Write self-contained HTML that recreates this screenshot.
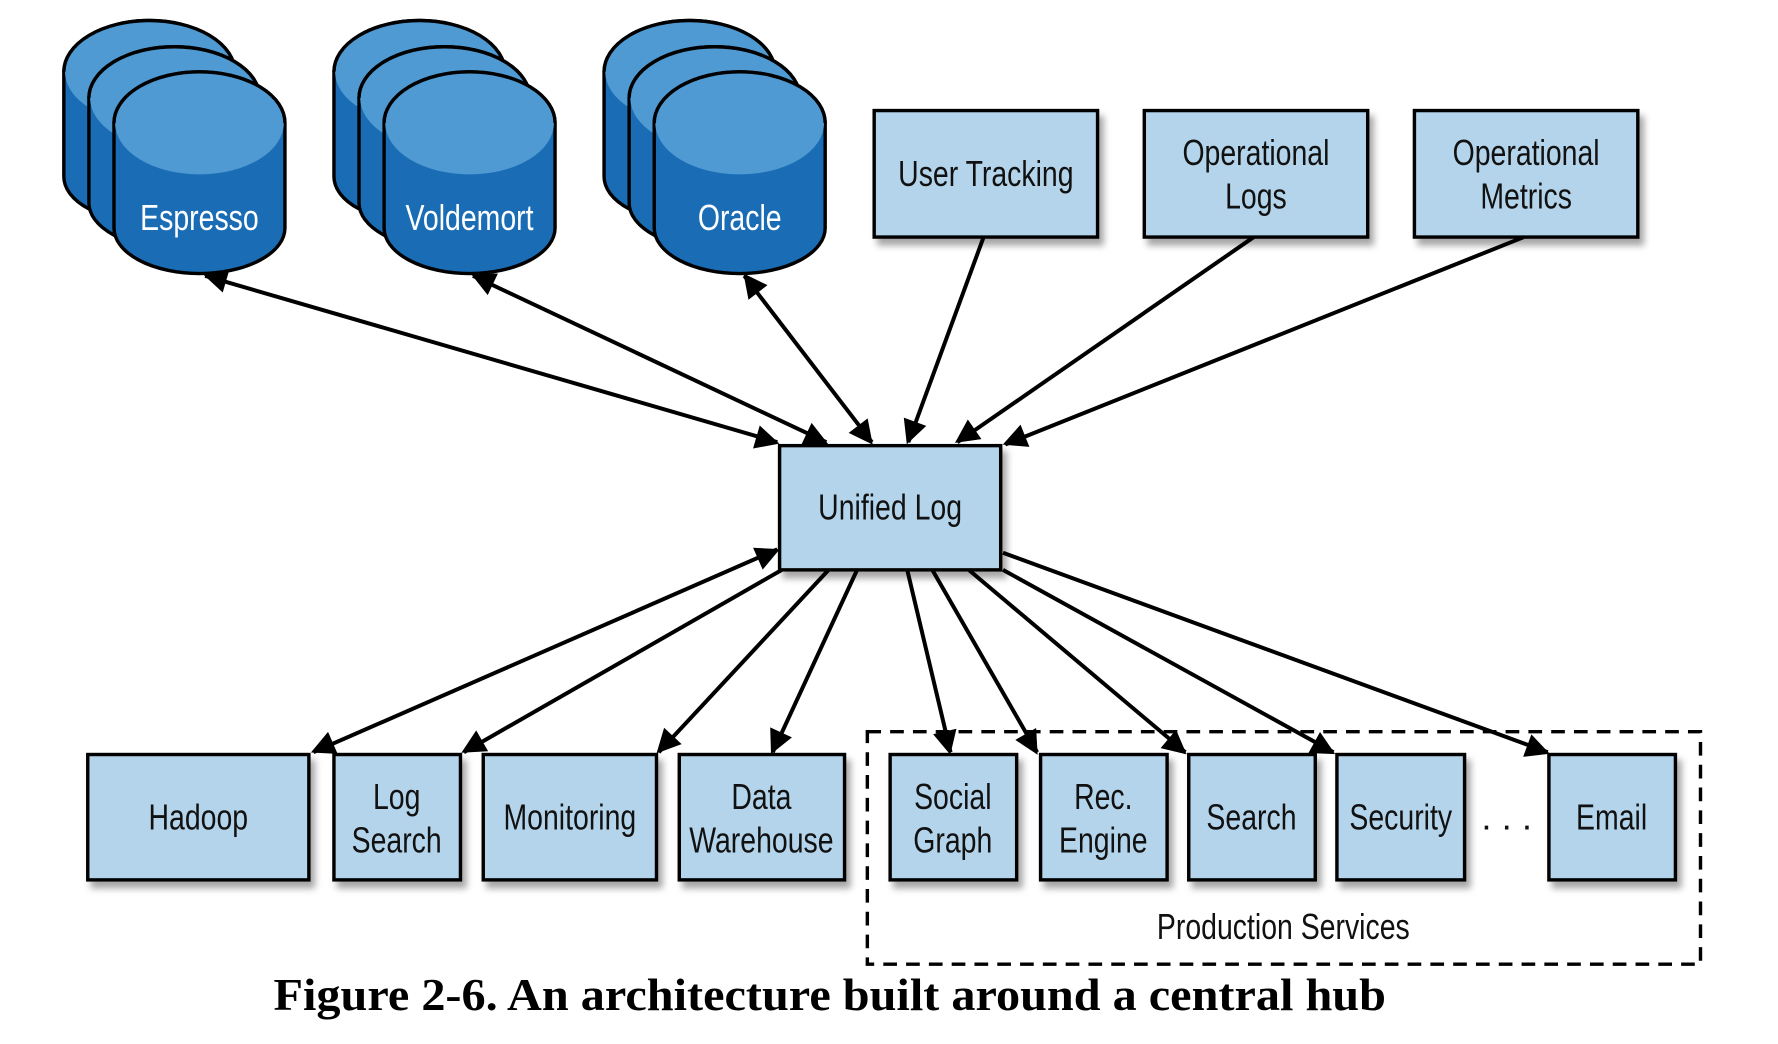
<!DOCTYPE html>
<html><head><meta charset="utf-8"><style>
html,body{margin:0;padding:0;background:#fff;}
svg{display:block;}
text{font-family:"Liberation Sans",sans-serif;}
</style></head><body>
<svg width="1778" height="1044" viewBox="0 0 1560 916" preserveAspectRatio="none" xmlns="http://www.w3.org/2000/svg">
<defs>
<marker id="a" viewBox="0 0 10 10" refX="9" refY="5" markerWidth="7" markerHeight="7" orient="auto-start-reverse" markerUnits="userSpaceOnUse" style="overflow:visible">
<path d="M0,0 L10,5 L0,10 z" fill="#000" transform="scale(3) translate(-6,-3)"/>
</marker>
<filter id="sh" x="-10%" y="-10%" width="130%" height="140%"><feDropShadow dx="4" dy="6" stdDeviation="3" flood-color="#000" flood-opacity="0.35"/></filter>
<g id="cyl">
<path d="M0,108 A75,45 0 0 1 150,108 L150,200 A75,40 0 0 1 0,200 Z" fill="#1a6db5" stroke="#000" stroke-width="3"/>
<path d="M1,108 A74,45 0 0 1 149,108 A74,45 0 0 1 1,108 Z" fill="#4f9ad2"/>
<path d="M0,108 A75,45 0 0 1 150,108" fill="none" stroke="#000" stroke-width="3"/>
</g>
</defs>

<g transform="translate(56,-45)"><use href="#cyl"/></g>
<g transform="translate(78,-22)"><use href="#cyl"/></g>
<g transform="translate(100,0)"><use href="#cyl"/></g>
<g transform="translate(293,-45)"><use href="#cyl"/></g>
<g transform="translate(315,-22)"><use href="#cyl"/></g>
<g transform="translate(337,0)"><use href="#cyl"/></g>
<g transform="translate(530,-45)"><use href="#cyl"/></g>
<g transform="translate(552,-22)"><use href="#cyl"/></g>
<g transform="translate(574,0)"><use href="#cyl"/></g>
<g font-size="32" fill="#fff" text-anchor="middle">
<text transform="translate(38.5,0) scale(0.78,1)" x="175" y="202">Espresso</text>
<text transform="translate(90.6,0) scale(0.78,1)" x="412" y="202">Voldemort</text>
<text transform="translate(142.8,0) scale(0.78,1)" x="649" y="202">Oracle</text>
</g>

<g fill="#b3d4ea" stroke="#000" stroke-width="3" filter="url(#sh)">
<rect x="767" y="97" width="196" height="111"/>
<rect x="1004" y="97" width="196" height="111"/>
<rect x="1241" y="97" width="196" height="111"/>
<rect x="684" y="391" width="194" height="109"/>
<rect x="77" y="662" width="194" height="110"/>
<rect x="293" y="662" width="111" height="110"/>
<rect x="424" y="662" width="152" height="110"/>
<rect x="596" y="662" width="145" height="110"/>
<rect x="781" y="662" width="111" height="110"/>
<rect x="913" y="662" width="111" height="110"/>
<rect x="1043" y="662" width="111" height="110"/>
<rect x="1173" y="662" width="112" height="110"/>
<rect x="1359" y="662" width="111" height="110"/>
</g>
<rect x="761" y="642" width="731" height="204" fill="none" stroke="#000" stroke-width="3" stroke-dasharray="12,8"/>

<g font-size="32" fill="#111" text-anchor="middle">
<text transform="translate(190.3,0) scale(0.78,1)" x="865" y="163">User Tracking</text>
<text transform="translate(242.4,0) scale(0.78,1)" x="1102" y="145">Operational</text>
<text transform="translate(242.4,0) scale(0.78,1)" x="1102" y="183">Logs</text>
<text transform="translate(294.6,0) scale(0.78,1)" x="1339" y="145">Operational</text>
<text transform="translate(294.6,0) scale(0.78,1)" x="1339" y="183">Metrics</text>
<text transform="translate(171.8,0) scale(0.78,1)" x="781" y="456">Unified Log</text>
<text transform="translate(38.3,0) scale(0.78,1)" x="174" y="728">Hadoop</text>
<text transform="translate(76.6,0) scale(0.78,1)" x="348" y="710">Log</text>
<text transform="translate(76.6,0) scale(0.78,1)" x="348" y="748">Search</text>
<text transform="translate(110,0) scale(0.78,1)" x="500" y="728">Monitoring</text>
<text transform="translate(147,0) scale(0.78,1)" x="668" y="710">Data</text>
<text transform="translate(147,0) scale(0.78,1)" x="668" y="748">Warehouse</text>
<text transform="translate(183.9,0) scale(0.78,1)" x="836" y="710">Social</text>
<text transform="translate(183.9,0) scale(0.78,1)" x="836" y="748">Graph</text>
<text transform="translate(213,0) scale(0.78,1)" x="968" y="710">Rec.</text>
<text transform="translate(213,0) scale(0.78,1)" x="968" y="748">Engine</text>
<text transform="translate(241.6,0) scale(0.78,1)" x="1098" y="728">Search</text>
<text transform="translate(270.4,0) scale(0.78,1)" x="1229" y="728">Security</text>
<text x="1322" y="728">. . .</text>
<text transform="translate(311.1,0) scale(0.78,1)" x="1414" y="728">Email</text>
<text transform="translate(247.7,0) scale(0.78,1)" x="1126" y="824">Production Services</text>
</g>

<g stroke="#000" stroke-width="3.5" fill="none" marker-end="url(#a)">
<line x1="180" y1="242" x2="682" y2="388" marker-start="url(#a)"/>
<line x1="415" y1="242" x2="725" y2="388" marker-start="url(#a)"/>
<line x1="653" y1="242" x2="765" y2="388" marker-start="url(#a)"/>
<line x1="863" y1="208" x2="797" y2="388"/>
<line x1="1100" y1="208" x2="840" y2="388"/>
<line x1="1337" y1="208" x2="882" y2="390"/>
<line x1="682" y1="482" x2="275" y2="660" marker-start="url(#a)"/>
<line x1="686" y1="500" x2="407" y2="660"/>
<line x1="727" y1="500" x2="578" y2="660"/>
<line x1="752" y1="500" x2="678" y2="660"/>
<line x1="796" y1="500" x2="834" y2="660"/>
<line x1="818" y1="500" x2="910" y2="660"/>
<line x1="850" y1="500" x2="1040" y2="660"/>
<line x1="880" y1="500" x2="1170" y2="660"/>
<line x1="880" y1="485" x2="1358" y2="660"/>
</g>

<text x="728" y="886" text-anchor="middle" font-size="40" font-weight="bold" textLength="976" lengthAdjust="spacingAndGlyphs" style="font-family:'Liberation Serif',serif" fill="#000">Figure 2-6. An architecture built around a central hub</text>
</svg>
</body></html>
